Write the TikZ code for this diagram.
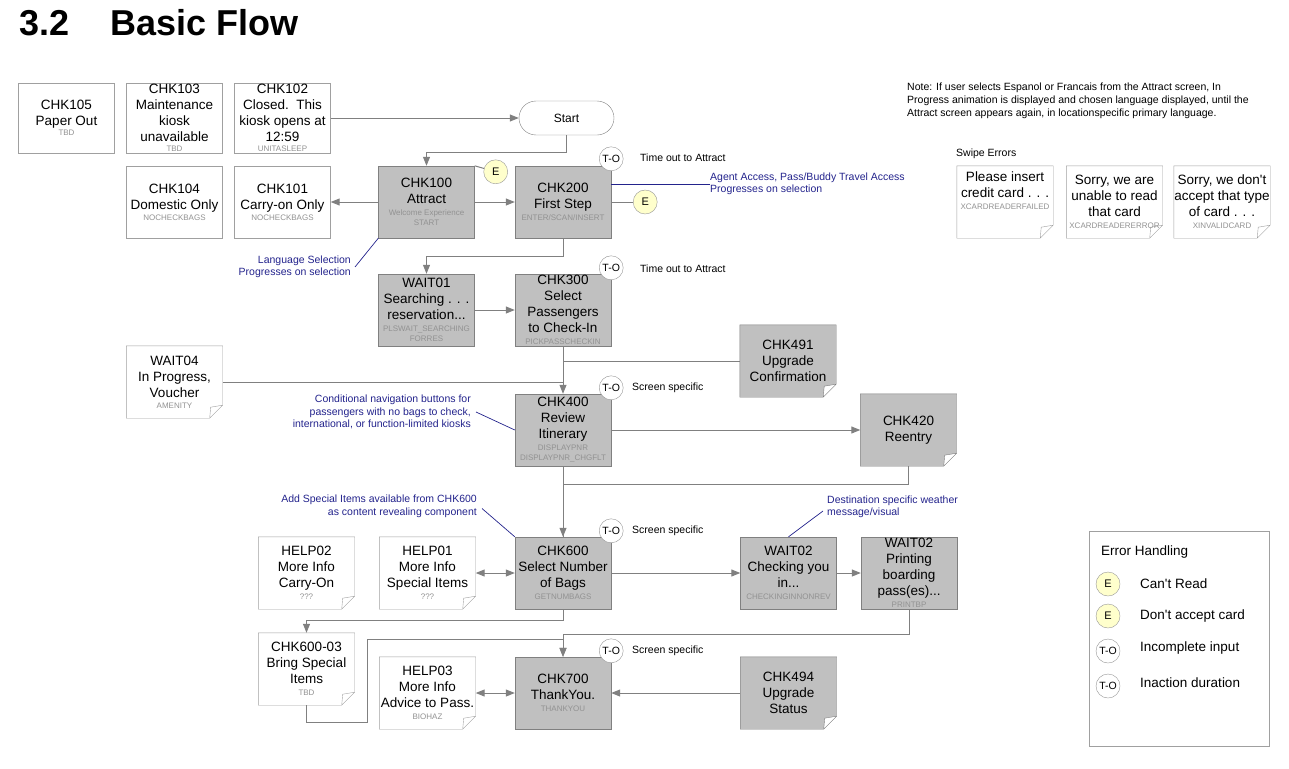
\documentclass[tikz,border=0pt]{standalone}
\usepackage{fontspec}
\setmainfont{Liberation Sans}
\usepackage{tikz}
\usetikzlibrary{arrows.meta,backgrounds}

\definecolor{chkgray}{RGB}{192,192,192}
\definecolor{boxgray}{RGB}{128,128,128}
\definecolor{paperline}{RGB}{160,160,160}
\definecolor{linegray}{RGB}{128,128,128}
\definecolor{notecol}{RGB}{35,35,140}
\definecolor{codegray}{RGB}{146,146,146}
\definecolor{errfill}{RGB}{255,255,204}
\definecolor{circgray}{RGB}{150,150,150}

\newcommand{\screenid}[1]{{\fontsize{8}{10}\selectfont\color{codegray}#1}}

\begin{document}
\begin{tikzpicture}[x=1pt,y=-1pt,
  box/.style={draw=boxgray, fill=chkgray, minimum width=96pt, minimum height=72pt,
    inner sep=0pt, align=center, font=\fontsize{13.5}{16}\selectfont},
  plain/.style={box, draw=paperline, fill=white},
  paper/.style={box, draw=none, fill=none},
  flow/.style={draw=linegray, line width=1pt, -{Triangle[length=9pt,width=7pt]}},
  both/.style={flow, {Triangle[length=9pt,width=7pt]}-{Triangle[length=9pt,width=7pt]}},
  link/.style={draw=linegray, line width=1pt},
  note/.style={draw=notecol, line width=0.7pt},
  remark/.style={text=notecol, inner sep=0pt, font=\fontsize{10.5}{12.5}\selectfont},
  txt/.style={inner sep=0pt, anchor=west, font=\fontsize{10.5}{12.5}\selectfont},
  err/.style={circle, draw=circgray, fill=errfill, minimum size=24pt, inner sep=0pt,
    font=\fontsize{11}{12}\selectfont},
  tout/.style={err, fill=white, font=\fontsize{10.5}{12}\selectfont}]
\useasboundingbox (0,0) rectangle (1289,768);

% title
\node[anchor=base west, inner sep=0pt, font=\fontsize{36}{40}\selectfont\bfseries] (secnum) at (19,36) {3.2};
\node[anchor=base west, inner sep=0pt, font=\fontsize{36}{40}\selectfont\bfseries] (sectitle) at (110,36) {Basic Flow};

% top row
\node[plain, minimum height=70pt] (chk105) at (66.5,118) {CHK105\\Paper Out\\[-6pt]\screenid{TBD}};
\node[plain, minimum height=70pt] (chk103) at (174.5,118) {CHK103\\Maintenance\\kiosk\\unavailable\\[-6pt]\screenid{TBD}};
\node[plain, minimum height=70pt] (chk102) at (282.5,118) {CHK102\\Closed.\ \ This\\kiosk opens at\\12:59\\[-6pt]\screenid{UNITASLEEP}};
\node[plain] (chk104) at (174.5,202) {CHK104\\Domestic Only\\[-5pt]\screenid{NOCHECKBAGS}};
\node[plain] (chk101) at (282.5,202) {CHK101\\Carry-on Only\\[-5pt]\screenid{NOCHECKBAGS}};
\node[draw=boxgray, fill=white, rounded corners=17pt, minimum width=95pt, minimum height=34pt,
  font=\fontsize{12}{14}\selectfont] (start) at (566.5,118) {Start};

% main column
\node[box] (chk100) at (426.5,202) {CHK100\\Attract\\[-4pt]\screenid{Welcome Experience}\\[-6pt]\screenid{START}};
\node[box] (chk200) at (563,202) {CHK200\\First Step\\[-4pt]\screenid{ENTER/SCAN/INSERT}};
\node[box] (wait01) at (426.5,310) {WAIT01\\Searching . . .\\reservation...\\[-4pt]\screenid{PLSWAIT\_SEARCHING}\\[-6pt]\screenid{FORRES}};
\node[box] (chk300) at (563,310) {CHK300\\Select\\Passengers\\to Check-In\\[-4pt]\screenid{PICKPASSCHECKIN}};
\node[paper] (wait04) at (174.5,382) {WAIT04\\In Progress,\\Voucher\\[-5pt]\screenid{AMENITY}};
\node[paper] (chk491) at (788,361) {CHK491\\Upgrade\\Confirmation};
\node[box] (chk400) at (563,430) {CHK400\\Review\\Itinerary\\[-4pt]\screenid{DISPLAYPNR}\\[-6pt]\screenid{DISPLAYPNR\_CHGFLT}};
\node[paper] (chk420) at (908.5,430) {CHK420\\Reentry};
\node[box] (chk600) at (563,573) {CHK600\\Select Number\\of Bags\\[-4pt]\screenid{GETNUMBAGS}};
\node[paper] (help01) at (427.5,573) {HELP01\\More Info\\Special Items\\[-4pt]\screenid{???}};
\node[paper] (help02) at (306.5,573) {HELP02\\More Info\\Carry-On\\[-4pt]\screenid{???}};
\node[box] (wait02a) at (788.5,573) {WAIT02\\Checking you\\in...\\[-4pt]\screenid{CHECKINGINNONREV}};
\node[box] (wait02b) at (909,573) {WAIT02\\Printing\\boarding\\pass(es)...\\[-4pt]\screenid{PRINTBP}};
\node[paper] (chk600b) at (306.5,669) {CHK600-03\\Bring Special\\Items\\[-4pt]\screenid{TBD}};
\node[paper] (help03) at (427.5,693) {HELP03\\More Info\\Advice to Pass.\\[-4pt]\screenid{BIOHAZ}};
\node[box] (chk700) at (563,693) {CHK700\\ThankYou.\\[-4pt]\screenid{THANKYOU}};
\node[paper] (chk494) at (788.5,693) {CHK494\\Upgrade\\Status};

% swipe errors
\node[txt] (swipe) at (956,154) {Swipe Errors};
\node[paper] (swipea) at (1005,202) {Please insert\\credit card . . .\\[-4pt]\screenid{XCARDREADERFAILED}\\[6pt]\mbox{}};
\node[paper] (swipeb) at (1114.5,202) {Sorry, we are\\unable to read\\that card\\[-4pt]\screenid{XCARDREADERERROR}};
\node[paper] (swipec) at (1222,202) {Sorry, we don\textquotesingle t\\accept that type\\of card . . .\\[-4pt]\screenid{XINVALIDCARD}};

% folded outlines
\begin{scope}[on background layer]
  \foreach \n in {wait04,help02,help01,chk600b,help03,swipea,swipeb,swipec}
    \draw[draw=paperline, fill=white] (\n.north west) -- (\n.north east) -- ([yshift=13pt]\n.south east)
      -- ([xshift=-13pt]\n.south east) -- (\n.south west) -- cycle
      ([yshift=13pt]\n.south east) -- ([xshift=-12pt,yshift=11pt]\n.south east) -- ([xshift=-13pt]\n.south east);
  \foreach \n in {chk491,chk420,chk494}
    \draw[draw=boxgray, fill=chkgray] (\n.north west) -- (\n.north east) -- ([yshift=13pt]\n.south east)
      -- ([xshift=-13pt]\n.south east) -- (\n.south west) -- cycle
      ([yshift=13pt]\n.south east) -- ([xshift=-12pt,yshift=11pt]\n.south east) -- ([xshift=-13pt]\n.south east);
\end{scope}

% connectors
\draw[flow] (chk102.east) -- (start.west);
\draw[flow] (start.south) -- ++(0,17) -| (chk100.north);
\draw[flow] (chk100.east) -- (chk200.west);
\draw[flow] (chk100.west) -- (chk101.east);
\draw[flow] (chk200.south) -- ++(0,18) -| (wait01.north);
\draw[flow] (wait01.east) -- (chk300.west);
\draw[flow] (chk300.south) -- (chk400.north);
\draw[link] (wait04.east) -- (wait04.east -| chk400.north);
\draw[link] (chk491.west) -- (chk491.west -| chk300.south);
\draw[flow] (chk400.east) -- (chk420.west);
\draw[flow] (chk400.south) -- (chk600.north);
\draw[link] (chk420.south) -- ++(0,18) -| (chk600.north);
\draw[flow] (chk600.east) -- (wait02a.west);
\draw[flow] (wait02a.east) -- (wait02b.west);
\draw[both] (help01.east) -- (chk600.west);
\draw[flow] (chk600.south) -- ++(0,11) -| (chk600b.north);
\draw[flow] (chk600b.south) |- (367,722) -- (367,639) -| (chk700.north);
\draw[flow] (wait02b.south) -- ++(0,25) -| (chk700.north);
\draw[flow] (chk494.west) -- (chk700.east);
\draw[both] (help03.east) -- (chk700.west);

% error and time-out markers
\node[err] (e1) at ([xshift=21pt,yshift=-6pt]chk100.north east) {E};
\node[err] (e2) at ([xshift=34pt]chk200.east) {E};
\draw[link] (chk100.north east) -- (e1);
\draw[link] (chk200.east) -- (e2);
\node[tout] (to1) at ([yshift=7pt]chk200.north east) {T-O};
\node[tout] (to2) at ([yshift=6pt]chk300.north east) {T-O};
\node[tout] (to3) at ([yshift=6pt]chk400.north east) {T-O};
\node[tout] (to4) at ([yshift=6pt]chk600.north east) {T-O};
\node[tout] (to5) at ([yshift=6pt]chk700.north east) {T-O};
\node[txt] (tl1) at (640,158) {Time out to Attract};
\node[txt] (tl2) at (640,269) {Time out to Attract};
\node[txt] (tl3) at (632,388) {Screen specific};
\node[txt] (tl4) at (632,531) {Screen specific};
\node[txt] (tl5) at (632,651) {Screen specific};

% annotations
\node[remark, anchor=west, align=left] (agent) at (710,184) {Agent Access, Pass/Buddy Travel Access\\Progresses on selection};
\draw[note] (agent.west) -- (agent.west -| chk200.east);
\node[remark, anchor=east, align=right] (lang) at (351,267) {Language Selection\\Progresses on selection};
\draw[note] (chk100.south west) -- ([xshift=4pt]lang.east);
\node[remark, anchor=east, align=right] (cond) at (471,412) {Conditional navigation buttons for\\passengers with no bags to check,\\international, or function-limited kiosks};
\draw[note] ([xshift=5pt]cond.east) -- (chk400.west);
\node[remark, anchor=east, align=right] (special) at (477,506.5) {Add Special Items available from CHK600\\as content revealing component};
\draw[note] ([xshift=5pt,yshift=-2pt]special.east) -- (chk600.north west);
\node[remark, anchor=west, align=left] (weather) at (827,507) {Destination specific weather\\message/visual};
\draw[note] ([xshift=-4pt,yshift=-4pt]weather.west) -- (wait02a.north);

% note
\node[txt, anchor=north west, align=left, font=\fontsize{10.5}{13}\selectfont] (note) at (907,83) {Note: If user selects Espanol or Francais from the Attract screen, In\\Progress animation is displayed and chosen language displayed, until the\\Attract screen appears again, in locationspecific primary language.};

% legend
\node[draw=paperline, minimum width=180pt, minimum height=215pt] (legend) at (1179,638.5) {};
\node[txt, font=\fontsize{13.5}{16}\selectfont] (legtitle) at (1101,552) {Error Handling};
\node[err] (le1) at (1108,584) {E};
\node[err] (le2) at (1108,616) {E};
\node[tout] (le3) at (1108,651) {T-O};
\node[tout] (le4) at (1108,686) {T-O};
\node[txt, font=\fontsize{13.5}{16}\selectfont] at (1140,584) {Can\textquotesingle t Read};
\node[txt, font=\fontsize{13.5}{16}\selectfont] at (1140,616) {Don\textquotesingle t accept card};
\node[txt, font=\fontsize{13.5}{16}\selectfont] at (1140,648) {Incomplete input};
\node[txt, font=\fontsize{13.5}{16}\selectfont] at (1140,683) {Inaction duration};
\end{tikzpicture}
\end{document}
